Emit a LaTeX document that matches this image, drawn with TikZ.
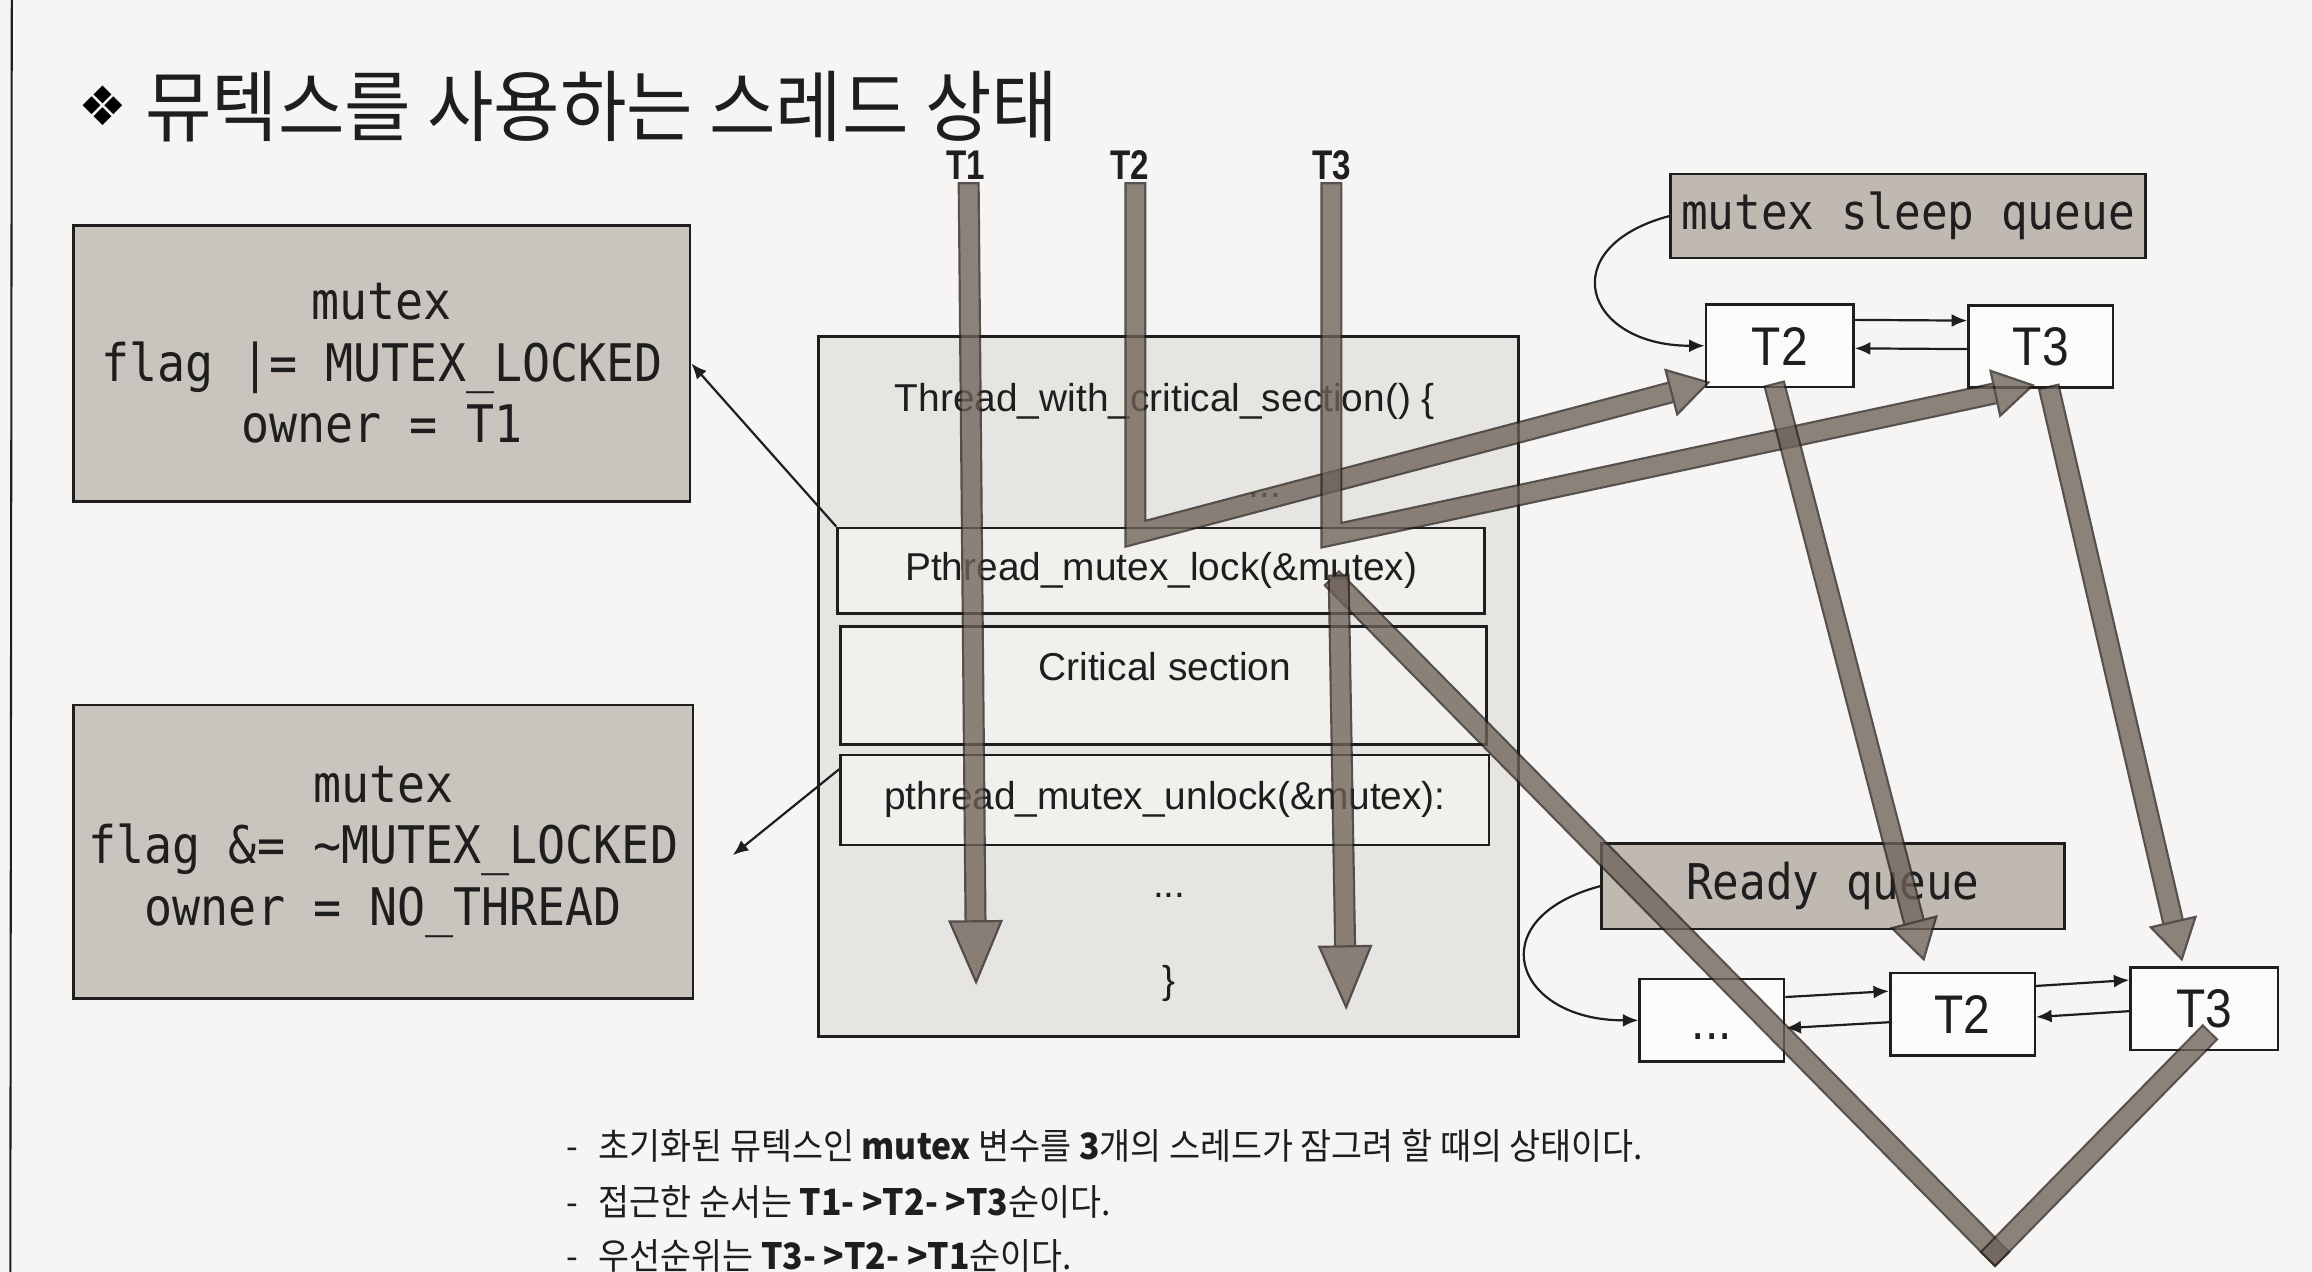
\documentclass[tikz,border=0pt]{standalone}
\usepackage{fontspec}
\setmainfont{Liberation Sans}
\newfontfamily\krtitle{Noto Sans CJK KR}[FakeStretch=0.93]
\newfontfamily\krtext{Noto Sans CJK KR}[FakeStretch=0.93]
\newfontfamily\monofont{DejaVu Sans Mono}[FakeStretch=0.9]
\newfontfamily\narrowsans{Liberation Sans}[FakeStretch=0.88]
\newfontfamily\narrowbold{Liberation Sans}[FakeStretch=0.8]
\newfontfamily\symfont{DejaVu Sans}
\usetikzlibrary{arrows.meta,calc}
\definecolor{paper}{HTML}{F6F5F3}
\definecolor{ink}{HTML}{1E1E1E}
\definecolor{boxgray}{HTML}{C9C4BD}
\definecolor{queuegray}{HTML}{BFB9B2}
\definecolor{funcgray}{HTML}{E7E5E1}
\definecolor{rowgray}{HTML}{F1F0ED}
\definecolor{cellwhite}{HTML}{FBFBFA}
\definecolor{threadgray}{HTML}{6E6259}
\definecolor{threadedge}{HTML}{2A2420}
\begin{document}
\begin{tikzpicture}[x=0.02cm, y=-0.02cm,
    box/.style={draw=ink, line width=1pt, inner sep=0pt},
    mono/.style={font=\monofont\fontsize{20}{23.7}\selectfont, align=center, text=ink},
    queuetext/.style={font=\monofont\fontsize{19}{21}\selectfont, text=ink},
    code/.style={font=\fontsize{15}{18}\selectfont, text=ink},
    cell/.style={box, fill=cellwhite, minimum height=1.12cm, text height=15pt, text depth=0pt,
        font=\narrowsans\fontsize{21}{24}\selectfont, text=ink},
    thlabel/.style={font=\narrowbold\bfseries\fontsize{16}{18}\selectfont, text=ink},
    note/.style={anchor=west, inner sep=0pt, font=\krtext\fontsize{14}{17}\selectfont, text=ink},
    link/.style={draw=ink, line width=0.85pt, -{Latex[length=6pt,width=5pt]}},
    thread/.style={transparency group, opacity=0.78},
    shaft/.style={draw=threadedge, line width=0.85pt, double=threadgray, double distance=6.8pt,
        line cap=rect, line join=miter},
    bighead/.style={draw=threadedge, line width=0.85pt, -{Triangle[length=25pt,width=21pt,fill=threadgray]}},
    smallhead/.style={draw=threadedge, line width=0.85pt, -{Triangle[length=16pt,width=19pt,fill=threadgray]}}]

    \fill[paper] (0,0) rectangle (1568,862.6);
    \useasboundingbox (0,0) rectangle (1568,862.6);
    \draw[ink, line width=0.8pt] (8,0) -- (7,862.6);

    % title
    \node (mark) at (70,72) {\symfont\fontsize{21}{24}\selectfont ❖};
    \node[anchor=west, inner sep=0pt, text=ink] (title) at (98,72)
        {\krtitle\fontsize{30}{36}\selectfont 뮤텍스를 사용하는 스레드 상태};

    % mutex states
    \node[box, fill=boxgray, minimum width=8.36cm, minimum height=3.74cm, mono] (locked) at (259,246.5)
        {mutex\\flag |= MUTEX\_LOCKED\\owner = T1};
    \node[box, fill=boxgray, minimum width=8.4cm, minimum height=3.98cm, mono] (unlocked) at (260,577.5)
        {mutex\\flag \&= \textasciitilde MUTEX\_LOCKED\\owner = NO\_THREAD};

    % function body
    \node[box, fill=funcgray, minimum width=9.5cm, minimum height=9.5cm] (func) at (792.5,465.5) {};
    \node[code] (head) at (790,272) {Thread\_with\_critical\_section() \{};
    \node[code] (dots1) at (858,336) {...};
    \node[box, fill=rowgray, minimum width=8.78cm, minimum height=1.16cm, code] (lockbox) at (787.5,387)
        {Pthread\_mutex\_lock(\&mutex)};
    \node[box, fill=rowgray, minimum width=8.76cm, minimum height=1.6cm] (critbox) at (789,465) {};
    \node[code] (crittext) at (790,452) {Critical section};
    \node[box, fill=rowgray, minimum width=8.8cm, minimum height=1.22cm, code] (unlockbox) at (790,542.5)
        {pthread\_mutex\_unlock(\&mutex):};
    \node[code] (dots2) at (793,607) {...};
    \node[code] (close) at (793,667) {\}};

    % sleep queue
    \node[box, fill=queuegray, minimum width=6.44cm, minimum height=1.14cm, queuetext] (sleepq) at (1294,146.5)
        {mutex sleep queue};
    \node[cell, minimum width=2.0cm] (sT2) at (1207,234.5) {T2};
    \node[cell, minimum width=1.96cm] (sT3) at (1384,235) {T3};

    % ready queue
    \node[box, fill=queuegray, minimum width=6.28cm, minimum height=1.16cm, queuetext] (readyq) at (1243,601)
        {Ready queue};
    \node[cell, minimum width=1.96cm] (rDots) at (1161,692) {...};
    \node[cell, minimum width=1.96cm] (rT2) at (1331,688) {T2};
    \node[cell, minimum width=2.0cm] (rT3) at (1495,684) {T3};

    % links
    \coordinate (ub) at (497,580);
    \draw[link] (lockbox.north west) -- (locked.east);
    \draw[link] ([yshift=-6pt]unlockbox.north west) -- (ub);
    \draw[link] (sleepq.west) to[out=195, in=180, looseness=2.3] (sT2.west);
    \draw[link] ([yshift=10pt]sT2.east) -- ([yshift=10pt]sT3.west);
    \draw[link] ([yshift=-1pt]sT3.west) -- ([yshift=-1pt]sT2.east);
    \draw[link] (readyq.west) to[out=195, in=180, looseness=2.3] (rDots.west);
    \draw[link] ([yshift=9pt]rDots.east) -- ([yshift=9pt]rT2.west);
    \draw[link] ([yshift=-3pt]rT2.west) -- ([yshift=-3pt]rDots.east);
    \draw[link] ([yshift=11pt]rT2.east) -- ([yshift=11pt]rT3.west);
    \draw[link] ([yshift=-1pt]rT3.west) -- ([yshift=-1pt]rT2.east);

    % threads
    \node[thlabel] (lT1) at (655,112) {T1};
    \node[thlabel] (lT2) at (766,112) {T2};
    \node[thlabel] (lT3) at (903,112) {T3};
    \coordinate (t1a) at (657,131); \coordinate (t1z) at (662,668);
    \coordinate (t2a) at (770,131); \coordinate (t2b) at (770,362); \coordinate (t2z) at (1160,259);
    \coordinate (t3a) at (903,131); \coordinate (t3b) at (903,363); \coordinate (t3z) at (1380,261);
    \coordinate (t3c) at (908,397); \coordinate (t3y) at (913,685);
    \coordinate (vbot) at (1353,849); \coordinate (vtop) at (1494,705);
    \coordinate (s2a) at (1205,267); \coordinate (s2z) at (1305,652);
    \coordinate (s3a) at (1391,269); \coordinate (s3z) at (1480,652);

    \begin{scope}[thread]
        \draw[shaft, shorten >=18pt] (t1a) -- (t1z);
        \draw[bighead] ($(t1z)!1pt!(t1a)$) -- (t1z);
    \end{scope}
    \begin{scope}[thread]
        \draw[shaft, shorten >=13pt] (t2a) -- (t2b) -- (t2z);
        \draw[smallhead] ($(t2z)!1pt!(t2b)$) -- (t2z);
    \end{scope}
    \begin{scope}[thread]
        \draw[shaft, shorten >=13pt] (t3a) -- (t3b) -- (t3z);
        \draw[smallhead] ($(t3z)!1pt!(t3b)$) -- (t3z);
    \end{scope}
    \begin{scope}[thread]
        \draw[shaft] (t3c) -- (vbot);
    \end{scope}
    \begin{scope}[thread]
        \draw[shaft] (vtop) -- (vbot);
    \end{scope}
    \begin{scope}[thread]
        \draw[shaft, shorten >=18pt] (t3c) -- (t3y);
        \draw[bighead] ($(t3y)!1pt!(t3c)$) -- (t3y);
    \end{scope}
    \begin{scope}[thread]
        \draw[shaft, shorten >=13pt] (s2a) -- (s2z);
        \draw[smallhead] ($(s2z)!1pt!(s2a)$) -- (s2z);
    \end{scope}
    \begin{scope}[thread]
        \draw[shaft, shorten >=13pt] (s3a) -- (s3z);
        \draw[smallhead] ($(s3z)!1pt!(s3a)$) -- (s3z);
    \end{scope}

    % notes
    \node[note] (note1) at (384,777) {-\hspace{0.55em}초기화된 뮤텍스인 \textbf{mutex} 변수를 \textbf{3}개의 스레드가 잠그려 할 때의 상태이다.};
    \node[note] (note2) at (384,815) {-\hspace{0.55em}접근한 순서는 \textbf{T1- >T2- >T3}순이다.};
    \node[note] (note3) at (384,852) {-\hspace{0.55em}우선순위는 \textbf{T3- >T2- >T1}순이다.};
\end{tikzpicture}
\end{document}
